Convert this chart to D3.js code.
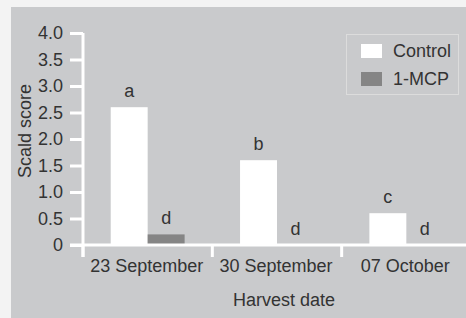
<!DOCTYPE html>
<html><head><meta charset="utf-8">
<script src="https://cdn.jsdelivr.net/npm/d3@7"></script>
<style>
html,body{margin:0;padding:0;background:#f3f3f3;overflow:hidden}
svg{display:block}
text{font-family:"Liberation Sans",Arial,sans-serif;fill:#333}
</style></head>
<body>
<script>
const categories = ["23 September", "30 September", "07 October"];
const seriesNames = ["Control", "1-MCP"];
const controlValues = [2.6, 1.6, 0.6];
const mcpValues = [0.2, 0.0, 0.0];
const controlLetters = ["a", "b", "c"];
const mcpLetters = ["d", "d", "d"];
const yTicks = [0, 0.5, 1.0, 1.5, 2.0, 2.5, 3.0, 3.5, 4.0];
const yTickLabels = ["0", "0.5", "1.0", "1.5", "2.0", "2.5", "3.0", "3.5", "4.0"];
const colors = {"Control": "#ffffff", "1-MCP": "#858585"};

const W = 466, H = 318;
const svg = d3.select("body").append("svg").attr("width", W).attr("height", H);

svg.append("rect").attr("x", 11).attr("y", 7).attr("width", W - 11).attr("height", H - 7).attr("fill", "#c9cacc");

const x = d3.scaleBand().domain(categories).range([83, 471]).paddingInner(0).paddingOuter(0);
const xSub = d3.scaleBand().domain(seriesNames).range([0, x.bandwidth()]).paddingInner(0).paddingOuter(0.75);
const y = d3.scaleLinear().domain([0, 4]).range([245, 33]);

const rows = categories.map((c, i) => ({
  cat: c,
  vals: [
    {s: "Control", v: controlValues[i], l: controlLetters[i]},
    {s: "1-MCP", v: mcpValues[i], l: mcpLetters[i]}
  ]
}));

const g = svg.append("g");
const grp = g.selectAll("g.grp").data(rows).join("g").attr("transform", d => `translate(${x(d.cat)},0)`);
grp.selectAll("rect").data(d => d.vals).join("rect")
  .attr("x", d => xSub(d.s)).attr("width", xSub.bandwidth())
  .attr("y", d => y(d.v)).attr("height", d => y(0) - y(d.v))
  .attr("fill", d => colors[d.s]);
grp.selectAll("text").data(d => d.vals).join("text")
  .attr("x", d => xSub(d.s) + xSub.bandwidth() / 2)
  .attr("y", d => y(d.v) - 10)
  .attr("text-anchor", "middle").attr("font-size", 18)
  .text(d => d.l);

// Y axis
const yAxis = d3.axisLeft(y).tickValues(yTicks).tickFormat((d, i) => yTickLabels[i]).tickSize(13).tickPadding(7);
const ya = svg.append("g").attr("transform", "translate(83,0)").call(yAxis);
ya.select(".domain").attr("stroke", "#fff").attr("stroke-width", 3).attr("d", `M0,${y(4)}V${y(0) + 12}`);
ya.selectAll(".tick line").attr("stroke", "#fff").attr("stroke-width", 3);
ya.selectAll(".tick text").attr("font-size", 18).attr("fill", "#333").attr("font-family", '"Liberation Sans",Arial,sans-serif');

// X axis
const xa = svg.append("g").attr("transform", `translate(0,${y(0)})`);
xa.append("line").attr("x1", 70).attr("x2", 471).attr("y1", 0).attr("y2", 0).attr("stroke", "#fff").attr("stroke-width", 3);
const bounds = categories.map(c => x(c)).concat([x(categories[categories.length - 1]) + x.bandwidth()]);
xa.selectAll("line.tk").data(bounds).join("line").attr("class", "tk")
  .attr("x1", d => d).attr("x2", d => d).attr("y1", 0).attr("y2", 12)
  .attr("stroke", "#fff").attr("stroke-width", 3);
xa.selectAll("text").data(categories).join("text")
  .attr("x", d => x(d) + x.bandwidth() / 2 - 1).attr("y", 27)
  .attr("text-anchor", "middle").attr("font-size", 18).text(d => d);

// Axis titles
svg.append("text").attr("x", 284).attr("y", 306).attr("text-anchor", "middle").attr("font-size", 18).text("Harvest date");
svg.append("text").attr("transform", "translate(31,131) rotate(-90)").attr("text-anchor", "middle").attr("font-size", 18).text("Scald score");

// Legend
const lg = svg.append("g");
lg.append("rect").attr("x", 346.5).attr("y", 34.5).attr("width", 112).attr("height", 60).attr("fill", "none").attr("stroke", "#dcdcdc").attr("stroke-width", 1);
const li = lg.selectAll("g.li").data(seriesNames).join("g").attr("transform", (d, i) => `translate(361,${44 + i * 28})`);
li.append("rect").attr("width", 21).attr("height", 14).attr("fill", d => colors[d]);
li.append("text").attr("x", 32).attr("y", 7).attr("dy", "0.35em").attr("font-size", 18).text(d => d);
</script>
</body></html>
